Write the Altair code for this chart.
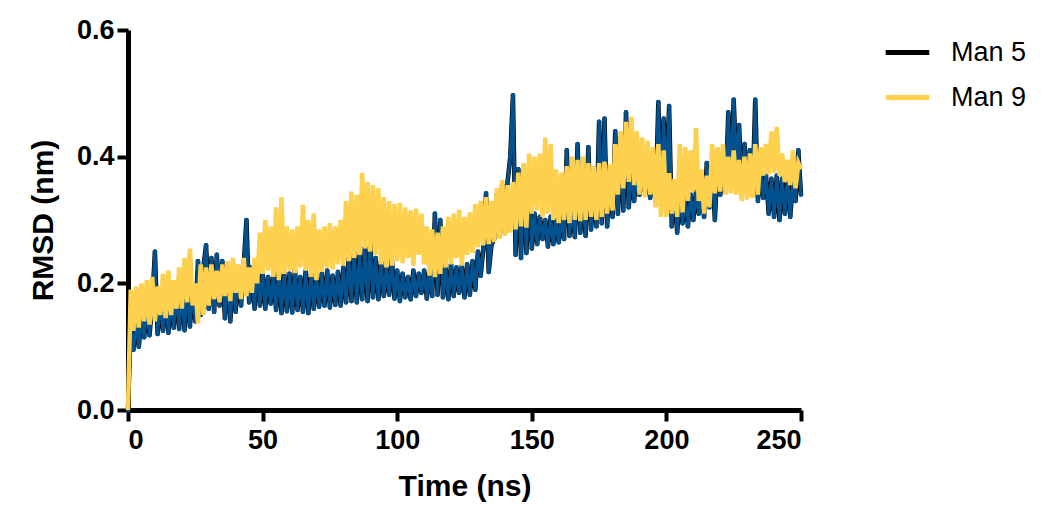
import altair as alt
import pandas as pd

time_ns = list(range(0, 251))

man5 = [
    0.000, 0.130, 0.095, 0.140, 0.100, 0.145, 0.115, 0.160, 0.118, 0.170,
    0.250, 0.120, 0.175, 0.125, 0.185, 0.122, 0.180, 0.130, 0.190, 0.128,
    0.195, 0.126, 0.200, 0.132, 0.190, 0.140, 0.235, 0.150, 0.225, 0.260,
    0.160, 0.240, 0.155, 0.245, 0.165, 0.235, 0.145, 0.220, 0.140, 0.210,
    0.155, 0.225, 0.165, 0.230, 0.300, 0.170, 0.225, 0.160, 0.230, 0.165,
    0.215, 0.160, 0.210, 0.168, 0.215, 0.158, 0.220, 0.153, 0.218, 0.156,
    0.215, 0.154, 0.222, 0.158, 0.210, 0.155, 0.220, 0.153, 0.215, 0.160,
    0.210, 0.163, 0.215, 0.165, 0.220, 0.162, 0.212, 0.166, 0.218, 0.165,
    0.225, 0.170, 0.240, 0.172, 0.250, 0.170, 0.245, 0.175, 0.257, 0.172,
    0.265, 0.178, 0.240, 0.175, 0.235, 0.180, 0.225, 0.182, 0.240, 0.176,
    0.220, 0.172, 0.215, 0.178, 0.210, 0.175, 0.220, 0.180, 0.215, 0.185,
    0.220, 0.176, 0.225, 0.180, 0.310, 0.182, 0.300, 0.178, 0.225, 0.175,
    0.230, 0.180, 0.225, 0.185, 0.228, 0.178, 0.230, 0.182, 0.235, 0.190,
    0.250, 0.212, 0.255, 0.342, 0.218, 0.260, 0.270, 0.340, 0.275, 0.355,
    0.280, 0.360, 0.400, 0.497, 0.245, 0.380, 0.240, 0.375, 0.248, 0.370,
    0.255, 0.310, 0.262, 0.305, 0.270, 0.300, 0.258, 0.305, 0.262, 0.300,
    0.265, 0.305, 0.270, 0.410, 0.275, 0.320, 0.273, 0.420, 0.280, 0.330,
    0.275, 0.415, 0.285, 0.340, 0.290, 0.455, 0.295, 0.460, 0.290, 0.380,
    0.305, 0.440, 0.310, 0.430, 0.315, 0.470, 0.320, 0.380, 0.330, 0.370,
    0.340, 0.375, 0.345, 0.360, 0.335, 0.380, 0.330, 0.486, 0.340, 0.460,
    0.350, 0.480, 0.290, 0.360, 0.280, 0.340, 0.295, 0.335, 0.290, 0.340,
    0.300, 0.345, 0.310, 0.335, 0.305, 0.390, 0.320, 0.385, 0.300, 0.390,
    0.340, 0.380, 0.345, 0.470, 0.360, 0.490, 0.380, 0.450, 0.340, 0.420,
    0.345, 0.410, 0.340, 0.490, 0.330, 0.380, 0.335, 0.370, 0.310, 0.365,
    0.305, 0.370, 0.300, 0.365, 0.310, 0.370, 0.305, 0.360, 0.330, 0.410,
    0.340,
]

man9 = [
    0.000, 0.190, 0.125, 0.195, 0.130, 0.200, 0.140, 0.205, 0.135, 0.210,
    0.140, 0.195, 0.150, 0.215, 0.145, 0.220, 0.150, 0.205, 0.160, 0.225,
    0.160, 0.240, 0.170, 0.255, 0.165, 0.200, 0.137, 0.230, 0.150, 0.225,
    0.165, 0.230, 0.175, 0.220, 0.170, 0.230, 0.180, 0.235, 0.172, 0.240,
    0.185, 0.230, 0.175, 0.240, 0.180, 0.225, 0.185, 0.240, 0.200, 0.280,
    0.215, 0.300, 0.220, 0.290, 0.210, 0.320, 0.205, 0.336, 0.215, 0.290,
    0.220, 0.285, 0.216, 0.290, 0.225, 0.324, 0.220, 0.300, 0.210, 0.310,
    0.205, 0.285, 0.218, 0.290, 0.225, 0.295, 0.222, 0.290, 0.230, 0.300,
    0.228, 0.330, 0.235, 0.345, 0.240, 0.340, 0.245, 0.374, 0.255, 0.360,
    0.250, 0.355, 0.245, 0.350, 0.230, 0.336, 0.225, 0.330, 0.228, 0.325,
    0.235, 0.327, 0.232, 0.320, 0.240, 0.315, 0.228, 0.318, 0.245, 0.310,
    0.230, 0.290, 0.212, 0.285, 0.210, 0.280, 0.215, 0.290, 0.225, 0.305,
    0.230, 0.310, 0.240, 0.316, 0.228, 0.305, 0.245, 0.312, 0.248, 0.325,
    0.257, 0.330, 0.260, 0.336, 0.262, 0.330, 0.265, 0.350, 0.270, 0.363,
    0.275, 0.355, 0.280, 0.360, 0.285, 0.375, 0.290, 0.390, 0.288, 0.405,
    0.310, 0.400, 0.315, 0.405, 0.305, 0.430, 0.310, 0.420, 0.300, 0.380,
    0.295, 0.375, 0.300, 0.385, 0.295, 0.400, 0.300, 0.395, 0.298, 0.400,
    0.300, 0.390, 0.305, 0.385, 0.300, 0.390, 0.305, 0.392, 0.310, 0.388,
    0.315, 0.420, 0.340, 0.440, 0.350, 0.455, 0.360, 0.463, 0.355, 0.440,
    0.340, 0.430, 0.336, 0.425, 0.340, 0.415, 0.320, 0.420, 0.305, 0.410,
    0.305, 0.374, 0.310, 0.365, 0.305, 0.420, 0.312, 0.415, 0.330, 0.410,
    0.345, 0.445, 0.330, 0.380, 0.310, 0.370, 0.320, 0.420, 0.342, 0.415,
    0.345, 0.420, 0.340, 0.400, 0.342, 0.410, 0.340, 0.395, 0.330, 0.400,
    0.332, 0.405, 0.335, 0.420, 0.340, 0.415, 0.370, 0.420, 0.372, 0.440,
    0.375, 0.447, 0.370, 0.405, 0.360, 0.395, 0.355, 0.410, 0.350, 0.390,
    0.380,
]

series_names = ["Man 5", "Man 9"]
line_colors = ["#000000", "#FDD04E"]
marker_blue = "#03528F"
x_ticks = [0, 50, 100, 150, 200, 250]
y_ticks = [0.0, 0.2, 0.4, 0.6]

df5 = pd.DataFrame({"t": time_ns, "rmsd": man5, "series": "Man 5"})
df9 = pd.DataFrame({"t": time_ns, "rmsd": man9, "series": "Man 9"})

FONT = "Liberation Sans"

x_enc = alt.X(
    "t:Q",
    scale=alt.Scale(domain=[0, 250], nice=False),
    axis=alt.Axis(values=x_ticks, title="Time (ns)", format="d"),
)
y_enc = alt.Y(
    "rmsd:Q",
    scale=alt.Scale(domain=[0, 0.6], nice=False),
    axis=alt.Axis(values=y_ticks, title="RMSD (nm)", format=".1f"),
)
color_enc = alt.Color(
    "series:N",
    scale=alt.Scale(domain=series_names, range=line_colors),
    legend=alt.Legend(
        title=None,
        orient="none",
        legendX=755,
        legendY=-2,
        symbolType="stroke",
        symbolSize=1900,
        symbolStrokeWidth=5,
        labelFontSize=27,
        labelFont=FONT,
        labelColor="black",
        labelOffset=19,
        rowPadding=7,
    ),
)

line5 = alt.Chart(df5).mark_line(strokeWidth=4.5, strokeJoin="round").encode(
    x=x_enc, y=y_enc, color=color_enc, order="t:Q"
)
blue5 = alt.Chart(df5).mark_line(strokeWidth=3.3, strokeJoin="round", color=marker_blue).encode(
    x="t:Q", y="rmsd:Q", order="t:Q"
)
dots5 = alt.Chart(df5).mark_circle(size=22, opacity=1, color=marker_blue).encode(
    x="t:Q", y="rmsd:Q"
)
line9 = alt.Chart(df9).mark_line(strokeWidth=4.5, strokeJoin="miter").encode(
    x="t:Q", y="rmsd:Q", color=color_enc, order="t:Q"
)

chart = (
    alt.layer(line5, blue5, dots5, line9)
    .properties(
        width=673,
        height=380,
        autosize=alt.AutoSizeParams(type="none"),
        padding={"left": 120, "top": 22, "right": 230, "bottom": 98},
    )
    .configure_view(stroke=None)
    .configure_axis(
        grid=False,
        domainColor="black",
        domainWidth=5,
        tickColor="black",
        tickWidth=4,
        tickSize=11,
        labelFont=FONT,
        labelFontSize=27,
        labelFontWeight="bold",
        labelColor="black",
        labelPadding=3,
        titleFont=FONT,
        titleFontSize=30,
        titleFontWeight="bold",
        titleColor="black",
    )
    .configure_axisX(labelPadding=6, titlePadding=18)
    .configure_axisY(titlePadding=18)
)

chart.save("out.html", embed_options={"renderer": "svg", "actions": False})
